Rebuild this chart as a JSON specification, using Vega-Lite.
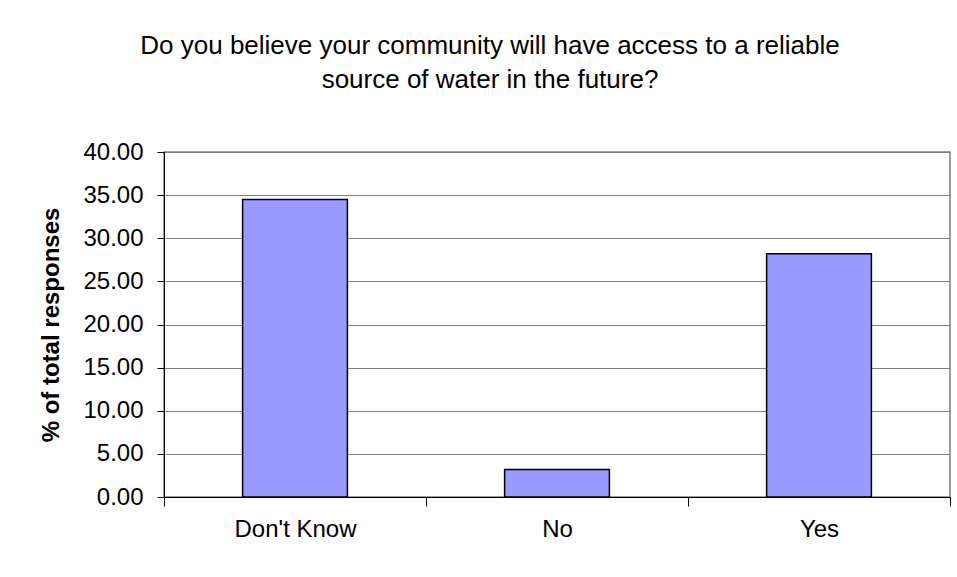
{
  "$schema": "https://vega.github.io/schema/vega-lite/v6.json",
  "autosize": {"type": "none"},
  "padding": {"left": 164, "top": 152, "right": 7, "bottom": 80},
  "width": 786,
  "height": 345,
  "background": "white",
  "title": {
    "text": ["Do you believe your community will have access to a reliable", "source of water in the future?"],
    "font": "Liberation Sans",
    "fontSize": 26,
    "fontWeight": "normal",
    "color": "black",
    "anchor": "middle",
    "dx": -67,
    "lineHeight": 34,
    "offset": 47
  },
  "data": {
    "values": [
      {"answer": "Don't Know", "pct": 34.5},
      {"answer": "No", "pct": 3.2},
      {"answer": "Yes", "pct": 28.2}
    ]
  },
  "mark": {"type": "bar", "fill": "#9999FF", "stroke": "black", "strokeWidth": 1.5, "width": {"band": 0.4}},
  "encoding": {
    "x": {
      "field": "answer",
      "type": "nominal",
      "sort": null,
      "scale": {"paddingInner": 0, "paddingOuter": 0},
      "axis": {
        "title": null,
        "labelAngle": 0,
        "labelFont": "Liberation Sans",
        "labelFontSize": 24,
        "labelColor": "black",
        "labelPadding": 11,
        "tickBand": "extent",
        "tickColor": "black",
        "tickSize": 9,
        "domainColor": "black",
        "grid": false
      }
    },
    "y": {
      "field": "pct",
      "type": "quantitative",
      "scale": {"domain": [0, 40], "nice": false},
      "axis": {
        "title": "% of total responses",
        "titleFont": "Liberation Sans",
        "titleFontSize": 24,
        "titleFontWeight": "bold",
        "titleColor": "black",
        "titlePadding": 19,
        "values": [0, 5, 10, 15, 20, 25, 30, 35, 40],
        "format": ".2f",
        "labelFont": "Liberation Sans",
        "labelFontSize": 24,
        "labelColor": "black",
        "labelPadding": 14,
        "tickColor": "black",
        "tickSize": 7,
        "domainColor": "black",
        "gridColor": "#808080",
        "gridOpacity": 1,
        "gridWidth": 1
      }
    }
  },
  "config": {
    "view": {"stroke": "#808080", "strokeWidth": 1.5}
  }
}
